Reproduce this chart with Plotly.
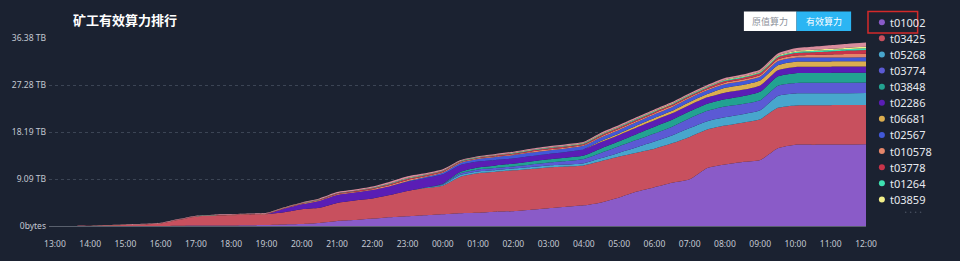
import plotly.graph_objects as go

times = [
    "2024-05-01 12:30", "2024-05-01 13:00", "2024-05-01 13:30", "2024-05-01 14:00",
    "2024-05-01 14:30", "2024-05-01 15:00", "2024-05-01 15:30", "2024-05-01 16:00",
    "2024-05-01 16:30", "2024-05-01 17:00", "2024-05-01 17:30", "2024-05-01 18:00",
    "2024-05-01 18:30", "2024-05-01 19:00", "2024-05-01 19:30", "2024-05-01 20:00",
    "2024-05-01 20:30", "2024-05-01 21:00", "2024-05-01 21:30", "2024-05-01 22:00",
    "2024-05-01 22:30", "2024-05-01 23:00", "2024-05-01 23:30", "2024-05-02 00:00",
    "2024-05-02 00:30", "2024-05-02 01:00", "2024-05-02 01:30", "2024-05-02 02:00",
    "2024-05-02 02:30", "2024-05-02 03:00", "2024-05-02 03:30", "2024-05-02 04:00",
    "2024-05-02 04:30", "2024-05-02 05:00", "2024-05-02 05:30", "2024-05-02 06:00",
    "2024-05-02 06:30", "2024-05-02 07:00", "2024-05-02 07:30", "2024-05-02 08:00",
    "2024-05-02 08:30", "2024-05-02 09:00", "2024-05-02 09:30", "2024-05-02 10:00",
    "2024-05-02 10:30", "2024-05-02 11:00", "2024-05-02 11:30", "2024-05-02 12:00",
]

# values in TB
t01002 = [0, 0, 0, 0, 0, 0, 0, 0, 0.06, 0.10, 0.10, 0.11, 0.15, 0.19, 0.29, 0.38,
          0.57, 0.95, 1.14, 1.43, 1.71, 1.91, 2.10, 2.29, 2.48, 2.57, 2.76, 2.86,
          3.14, 3.43, 3.71, 4.00, 4.57, 5.52, 6.67, 7.52, 8.38, 9.05, 11.24, 11.91,
          12.38, 12.76, 15.05, 15.72, 15.72, 15.75, 15.77, 15.81]
t03425 = [0, 0, 0, 0, 0.10, 0.19, 0.29, 0.48, 1.09, 1.71, 1.91, 1.98, 2.04, 2.10,
          2.38, 2.86, 2.95, 3.52, 3.81, 3.91, 4.29, 4.86, 5.24, 5.52, 7.05, 7.62,
          7.72, 7.91, 7.91, 7.91, 7.81, 7.72, 8.00, 7.91, 7.52, 7.43, 7.62, 8.19,
          7.43, 7.52, 7.62, 7.91, 7.81, 7.62, 7.66, 7.64, 7.64, 7.62]
t05268 = [0, 0, 0, 0, 0, 0, 0, 0, 0, 0, 0, 0, 0, 0, 0, 0, 0, 0, 0, 0, 0, 0,
          0.10, 0.19, 0.38, 0.38, 0.38, 0.38, 0.38, 0.38, 0.38, 0.44, 0.57, 0.76,
          1.05, 1.39, 1.52, 1.71, 1.62, 1.60, 1.62, 1.71, 2.29, 2.29, 2.29, 2.29,
          2.29, 2.29]
t03774 = [0, 0, 0, 0, 0, 0, 0, 0, 0, 0, 0, 0, 0, 0, 0, 0, 0, 0, 0, 0, 0, 0, 0,
          0.10, 0.29, 0.38, 0.38, 0.38, 0.48, 0.57, 0.67, 0.82, 1.05, 1.24, 1.43,
          1.58, 1.71, 1.91, 2.00, 2.10, 2.00, 1.96, 2.00, 2.04, 2.04, 2.04, 2.04, 2.04]
t03848 = [0, 0, 0, 0, 0, 0, 0, 0, 0, 0, 0, 0, 0, 0, 0, 0, 0, 0, 0, 0, 0, 0, 0,
          0.10, 0.29, 0.38, 0.48, 0.51, 0.57, 0.61, 0.63, 0.65, 0.86, 0.95, 1.14,
          1.28, 1.33, 1.33, 1.37, 1.39, 1.49, 1.62, 1.81, 1.91, 1.91, 1.91, 1.91, 1.91]
t02286 = [0, 0, 0, 0, 0, 0, 0, 0, 0, 0, 0, 0, 0, 0, 0.67, 0.95, 1.33, 1.52, 1.52,
          1.62, 1.71, 1.81, 1.81, 1.81, 1.33, 1.14, 1.05, 1.01, 1.05, 1.05, 1.14,
          1.24, 1.24, 1.24, 1.24, 1.24, 1.24, 1.24, 1.24, 1.28, 1.24, 1.24, 1.20,
          1.20, 1.20, 1.20, 1.20, 1.20]
t06681 = [0, 0, 0, 0, 0, 0, 0, 0, 0, 0, 0, 0, 0, 0, 0, 0, 0, 0, 0, 0, 0, 0, 0, 0,
          0, 0, 0, 0, 0, 0, 0, 0, 0.19, 0.29, 0.38, 0.44, 0.48, 0.57, 0.63, 0.95,
          0.95, 0.95, 0.95, 1.01, 1.01, 1.01, 1.01, 1.01]
t02567 = [0, 0, 0, 0, 0, 0, 0, 0, 0, 0, 0, 0, 0, 0, 0, 0, 0, 0, 0, 0, 0, 0.10,
          0.19, 0.29, 0.38, 0.48, 0.57, 0.65, 0.67, 0.67, 0.67, 0.65, 0.67, 0.67,
          0.70, 0.72, 0.72, 0.72, 0.72, 0.67, 0.70, 0.72, 0.76, 0.76, 0.76, 0.76,
          0.76, 0.76]
t010578 = [0, 0, 0, 0.02, 0.03, 0.03, 0.03, 0.04, 0.05, 0.05, 0.05, 0.05, 0.06, 0.06,
           0.07, 0.10, 0.12, 0.14, 0.14, 0.17, 0.21, 0.24, 0.19, 0.17, 0.14, 0.14,
           0.15, 0.17, 0.19, 0.21, 0.20, 0.20, 0.24, 0.24, 0.24, 0.24, 0.25, 0.25,
           0.26, 0.31, 0.33, 0.36, 0.38, 0.46, 0.52, 0.59, 0.66, 0.71]
t03778 = [0, 0, 0, 0.01, 0.02, 0.02, 0.03, 0.03, 0.04, 0.04, 0.04, 0.05, 0.05, 0.06,
          0.07, 0.09, 0.12, 0.14, 0.14, 0.16, 0.21, 0.23, 0.19, 0.16, 0.14, 0.14,
          0.15, 0.17, 0.19, 0.20, 0.20, 0.19, 0.24, 0.24, 0.24, 0.24, 0.25, 0.25,
          0.26, 0.31, 0.33, 0.36, 0.38, 0.46, 0.52, 0.59, 0.66, 0.71]
t01264 = [0, 0, 0, 0, 0, 0, 0, 0, 0.01, 0.01, 0.01, 0.01, 0.01, 0.01, 0.02, 0.03,
          0.04, 0.05, 0.05, 0.06, 0.08, 0.09, 0.08, 0.08, 0.07, 0.07, 0.07, 0.08,
          0.09, 0.10, 0.10, 0.10, 0.12, 0.12, 0.12, 0.12, 0.13, 0.13, 0.14, 0.16,
          0.17, 0.18, 0.19, 0.22, 0.25, 0.28, 0.31, 0.34]
t03859 = [0, 0, 0, 0, 0, 0, 0, 0, 0, 0, 0, 0, 0, 0, 0.01, 0.02, 0.03, 0.04, 0.04,
          0.05, 0.06, 0.07, 0.06, 0.05, 0.05, 0.05, 0.05, 0.06, 0.07, 0.08, 0.08,
          0.08, 0.09, 0.09, 0.09, 0.09, 0.10, 0.10, 0.10, 0.12, 0.13, 0.14, 0.15,
          0.18, 0.21, 0.23, 0.26, 0.29]
others = [0, 0, 0, 0.03, 0.05, 0.06, 0.07, 0.08, 0.09, 0.09, 0.09, 0.10, 0.11, 0.12,
          0.12, 0.14, 0.17, 0.20, 0.20, 0.23, 0.30, 0.32, 0.24, 0.21, 0.17, 0.17,
          0.19, 0.21, 0.22, 0.23, 0.22, 0.21, 0.26, 0.26, 0.26, 0.26, 0.26, 0.26,
          0.29, 0.34, 0.37, 0.39, 0.42, 0.53, 0.60, 0.67, 0.74, 0.81]

series_names = ["t01002", "t03425", "t05268", "t03774", "t03848", "t02286",
                "t06681", "t02567", "t010578", "t03778", "t01264", "t03859"]
series_values = [t01002, t03425, t05268, t03774, t03848, t02286,
                 t06681, t02567, t010578, t03778, t01264, t03859]
colors = ["#8a5bc8", "#c8505e", "#48a6cd", "#5b5ad4", "#22a291", "#5a1db5",
          "#dcae4f", "#4158d8", "#e5866a", "#c8344a", "#3ee0b0", "#f2ef8a"]
other_color = "#d98c9c"

y_tickvals = [0, 9.095, 18.19, 27.285, 36.38]
y_ticktext = ["0bytes", "9.09 TB", "18.19 TB", "27.28 TB", "36.38 TB"]

title_text = "矿工有效算力排行"
button_labels = ["原值算力", "有效算力"]

W, H = 960, 261
ML, MR, MT, MB = 43, 94, 38, 32
PW, PH = W - ML - MR, H - MT - MB


def px(x):
    return (x - ML) / PW


def py(y):
    return (H - MB - y) / PH


BG = "#1b2231"
FONT = "Noto Sans, Noto Sans CJK SC, sans-serif"

fig = go.Figure()
for name, vals, col in zip(series_names, series_values, colors):
    fig.add_trace(go.Scatter(
        x=times, y=vals, name=name, mode="lines", stackgroup="one",
        line=dict(width=0, shape="spline", smoothing=0.55, color=col),
        fillcolor=col, showlegend=False,
    ))
fig.add_trace(go.Scatter(
    x=times, y=others, name="其他", mode="lines", stackgroup="one",
    line=dict(width=0, shape="spline", smoothing=0.55, color=other_color),
    fillcolor=other_color, showlegend=False,
))

shapes = []
annotations = []

# title
annotations.append(dict(
    text="<b>" + title_text + "</b>", x=px(65), y=py(20), xref="paper", yref="paper",
    xanchor="left", yanchor="middle", showarrow=False,
    font=dict(family=FONT, size=13, color="#ffffff"),
))

# buttons
shapes.append(dict(type="rect", xref="paper", yref="paper",
                   x0=px(743), x1=px(796), y0=py(31), y1=py(11),
                   fillcolor="#ffffff", line=dict(width=0), layer="above"))
shapes.append(dict(type="rect", xref="paper", yref="paper",
                   x0=px(796), x1=px(851), y0=py(31), y1=py(11),
                   fillcolor="#2bb5f3", line=dict(width=0), layer="above"))
annotations.append(dict(text=button_labels[0], x=px(769.5), y=py(21), xref="paper",
                        yref="paper", showarrow=False, xanchor="center", yanchor="middle",
                        font=dict(family=FONT, size=9, color="#8a8f99")))
annotations.append(dict(text=button_labels[1], x=px(823.5), y=py(21), xref="paper",
                        yref="paper", showarrow=False, xanchor="center", yanchor="middle",
                        font=dict(family=FONT, size=9, color="#ffffff")))

# custom legend
for i, (name, col) in enumerate(zip(series_names, colors)):
    yc = 22 + i * 16.36
    shapes.append(dict(type="circle", xref="paper", yref="paper",
                       xsizemode="pixel", ysizemode="pixel",
                       xanchor=px(882), yanchor=py(yc),
                       x0=-3, x1=3, y0=-3, y1=3,
                       fillcolor=col, line=dict(width=0), layer="above"))
    annotations.append(dict(text=name, x=px(888), y=py(yc), xref="paper", yref="paper",
                            showarrow=False, xanchor="left", yanchor="middle",
                            font=dict(family=FONT, size=11, color="#e6e9ef")))
# page indicator dots below the legend
for dx in (906, 911, 916, 921):
    shapes.append(dict(type="circle", xref="paper", yref="paper",
                       xsizemode="pixel", ysizemode="pixel",
                       xanchor=px(dx), yanchor=py(215),
                       x0=-0.8, x1=0.8, y0=-0.8, y1=0.8,
                       fillcolor="#4a5262", line=dict(width=0), layer="above"))
# red highlight box
shapes.append(dict(type="rect", xref="paper", yref="paper",
                   x0=px(868), x1=px(918), y0=py(33), y1=py(11),
                   line=dict(color="#d42a2a", width=1.5), fillcolor="rgba(0,0,0,0)",
                   layer="above"))

fig.update_layout(
    width=W, height=H,
    margin=dict(l=ML, r=MR, t=MT, b=MB, pad=0),
    paper_bgcolor=BG, plot_bgcolor=BG,
    font=dict(family=FONT, color="#c3c8d2"),
    shapes=shapes, annotations=annotations,
    showlegend=False,
    xaxis=dict(
        type="date",
        range=["2024-05-01 12:50", "2024-05-02 12:00"],
        tick0="2024-05-01 13:00", dtick=3600000, tickformat="%H:%M",
        showgrid=False, zeroline=False,
        showline=True, linecolor="#59606d", linewidth=1,
        ticks="", ticklabelstandoff=10,
        tickfont=dict(size=8.5, color="#c3c8d2"),
    ),
    yaxis=dict(
        range=[0, 36.38],
        tickvals=y_tickvals, ticktext=y_ticktext,
        showgrid=True, gridcolor="#3c4555", griddash="dot", gridwidth=1,
        zeroline=False, showline=False, ticks="",
        tickfont=dict(size=8.5, color="#c3c8d2"),
        ticklabelstandoff=2,
    ),
)

fig.write_html("out.html")
